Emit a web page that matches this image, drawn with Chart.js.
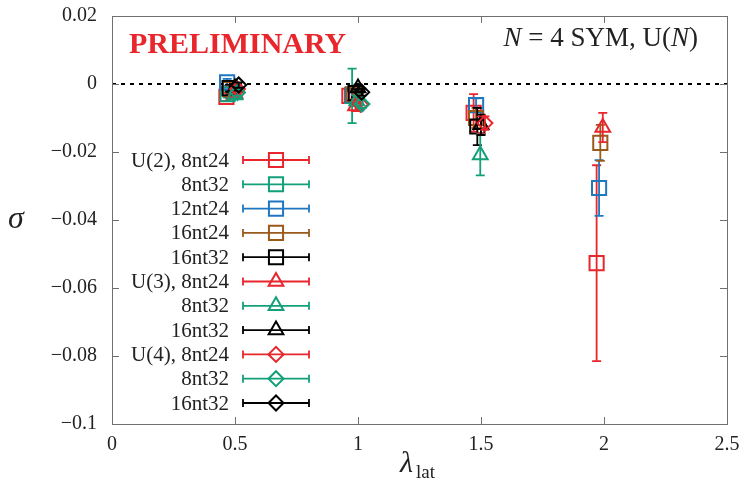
<!DOCTYPE html>
<html>
<head>
<meta charset="utf-8">
<script src="https://cdn.jsdelivr.net/npm/chart.js@4"></script>
<style>
  html, body { margin: 0; padding: 0; background: #fff; }
  #wrap { width: 742px; height: 483px; }
</style>
</head>
<body>
<div id="wrap"><canvas id="sigmaChart" width="742" height="483"></canvas></div>
<script>
// ===== DATA =====
const seriesLabels = [
    "U(2), 8nt24", "8nt32", "12nt24", "16nt24", "16nt32",
    "U(3), 8nt24", "8nt32", "16nt32",
    "U(4), 8nt24", "8nt32", "16nt32"
];
const seriesColors = [
    "#e8262c", "#12a07a", "#1f77c2", "#9a5a1c", "#000000",
    "#e8262c", "#12a07a", "#000000",
    "#e8262c", "#12a07a", "#000000"
];
const seriesStyles = [
    "rect", "rect", "rect", "rect", "rect",
    "triangle", "triangle", "triangle",
    "rectRot", "rectRot", "rectRot"
];
// lambda_lat of each point, per series
const seriesLambda = [
    [0.465, 0.965, 1.47, 1.97],
    [0.47, 0.976],
    [0.468, 0.976, 1.48, 1.98],
    [0.48, 0.98, 1.48, 1.985],
    [0.478, 0.99, 1.485],
    [0.5, 0.99, 1.5, 1.995],
    [0.5, 0.995, 1.497],
    [0.5, 1.0, 1.5],
    [0.51, 1.01, 1.516],
    [0.51, 1.016],
    [0.515, 1.015]
];
// sigma of each point, per series
const seriesSigma = [
    [-0.0038, -0.0035, -0.0085, -0.0527],
    [-0.0030, -0.0035],
    [0.0005, -0.0032, -0.0062, -0.0306],
    [-0.0015, -0.0030, -0.0100, -0.0173],
    [-0.0012, -0.0027, -0.0125],
    [-0.0028, -0.0065, -0.0120, -0.0128],
    [-0.0032, -0.0050, -0.0209],
    [-0.0012, -0.0012, -0.0120],
    [-0.0015, -0.0060, -0.0115],
    [-0.0025, -0.0059],
    [-0.0003, -0.0024]
];
// symmetric error on sigma, per series
const seriesError = [
    [0.0012, 0.0015, 0.0055, 0.0288],
    [0.0010, 0.0080],
    [0.0010, 0.0015, 0.0020, 0.0082],
    [0.0010, 0.0015, 0.0030, 0.0053],
    [0.0010, 0.0012, 0.0055],
    [0.0010, 0.0015, 0.0025, 0.0043],
    [0.0010, 0.0015, 0.0060],
    [0.0010, 0.0010, 0.0030],
    [0.0010, 0.0012, 0.0020],
    [0.0010, 0.0012],
    [0.0008, 0.0010]
];
const xTicks = [0, 0.5, 1, 1.5, 2, 2.5];
const yTicks = [0.02, 0, -0.02, -0.04, -0.06, -0.08, -0.1];

const SERIF = "'Liberation Serif', 'DejaVu Serif', serif";
const MARK_RADIUS = { rect: 10, triangle: 8.5, rectRot: 7.5 };

function fmtNum(v, digits) {
    if (Math.abs(v) < 1e-9) return "0";
    const s = String(Math.abs(+v.toFixed(digits)));
    return (v < 0 ? "\u2212" : "") + s;
}

// no extra room for overhanging tick labels; the layout padding handles it
function noLabelPadding(scale) {
    scale.paddingTop = 0;
    scale.paddingBottom = 0;
    scale.paddingLeft = 0;
    scale.paddingRight = 0;
}

// ===== PLUGINS =====
const frameAndTicks = {
    id: "frameAndTicks",
    beforeDatasetsDraw(chart) {
        const { ctx, chartArea: a, scales } = chart;
        ctx.save();
        // zero line
        ctx.strokeStyle = "#000";
        ctx.lineWidth = 2;
        ctx.setLineDash([4, 5]);
        const y0 = scales.y.getPixelForValue(0);
        ctx.beginPath();
        ctx.moveTo(a.left, y0);
        ctx.lineTo(a.right, y0);
        ctx.stroke();
        ctx.setLineDash([]);
        // frame
        ctx.strokeStyle = "#6f6f6f";
        ctx.lineWidth = 1;
        ctx.strokeRect(a.left + 0.5, a.top + 0.5, a.right - a.left, a.bottom - a.top);
        // inward ticks on all sides
        ctx.beginPath();
        xTicks.forEach(v => {
            const x = Math.round(scales.x.getPixelForValue(v)) + 0.5;
            ctx.moveTo(x, a.bottom); ctx.lineTo(x, a.bottom - 7);
            ctx.moveTo(x, a.top); ctx.lineTo(x, a.top + 7);
        });
        yTicks.forEach(v => {
            const y = Math.round(scales.y.getPixelForValue(v)) + 0.5;
            ctx.moveTo(a.left, y); ctx.lineTo(a.left + 7, y);
            ctx.moveTo(a.right, y); ctx.lineTo(a.right - 7, y);
        });
        ctx.stroke();
        ctx.restore();
    }
};

const errorBars = {
    id: "errorBars",
    beforeDatasetDraw(chart, args) {
        const i = args.index;
        const meta = args.meta;
        const { ctx, scales } = chart;
        ctx.save();
        ctx.strokeStyle = seriesColors[i];
        ctx.lineWidth = 1.8;
        meta.data.forEach((pt, j) => {
            const s = seriesSigma[i][j], e = seriesError[i][j];
            const yTop = scales.y.getPixelForValue(s + e);
            const yBot = scales.y.getPixelForValue(s - e);
            ctx.beginPath();
            ctx.moveTo(pt.x, yTop); ctx.lineTo(pt.x, yBot);
            ctx.moveTo(pt.x - 4.5, yTop); ctx.lineTo(pt.x + 4.5, yTop);
            ctx.moveTo(pt.x - 4.5, yBot); ctx.lineTo(pt.x + 4.5, yBot);
            ctx.stroke();
        });
        ctx.restore();
    }
};

const annotations = {
    id: "annotations",
    afterDraw(chart) {
        const { ctx } = chart;
        ctx.save();
        ctx.textBaseline = "middle";

        // key, drawn inside the plot
        seriesLabels.forEach((label, i) => {
            const y = 160 + i * 24.3;
            ctx.fillStyle = "#222";
            ctx.font = "21px " + SERIF;
            ctx.textAlign = "right";
            ctx.fillText(label, 229, y + 1);
            ctx.strokeStyle = seriesColors[i];
            ctx.lineWidth = 1.8;
            ctx.beginPath();
            ctx.moveTo(243, y); ctx.lineTo(309, y);
            ctx.moveTo(243, y - 4); ctx.lineTo(243, y + 4);
            ctx.moveTo(309, y - 4); ctx.lineTo(309, y + 4);
            ctx.stroke();
            ctx.fillStyle = "rgba(0,0,0,0)";
            ctx.lineWidth = 2;
            Chart.helpers.drawPoint(ctx, {
                pointStyle: seriesStyles[i],
                radius: MARK_RADIUS[seriesStyles[i]],
                rotation: 0,
                borderWidth: 2
            }, 276, y);
        });

        // headline texts
        ctx.textAlign = "left";
        ctx.textBaseline = "alphabetic";
        ctx.fillStyle = "#e8262c";
        ctx.font = "bold 30px " + SERIF;
        ctx.fillText("PRELIMINARY", 129, 53);

        const parts = [
            ["italic 27px " + SERIF, "N"],
            ["27px " + SERIF, " = 4 SYM, U("],
            ["italic 27px " + SERIF, "N"],
            ["27px " + SERIF, ")"]
        ];
        let total = 0;
        parts.forEach(p => { ctx.font = p[0]; total += ctx.measureText(p[1]).width; });
        let x = 698 - total;
        ctx.fillStyle = "#222";
        parts.forEach(p => {
            ctx.font = p[0];
            ctx.fillText(p[1], x, 46);
            x += ctx.measureText(p[1]).width;
        });

        // axis titles
        ctx.font = "italic 32px " + SERIF;
        ctx.fillText("\u03c3", 8, 228);
        ctx.font = "italic 30px " + SERIF;
        ctx.fillText("\u03bb", 400, 472);
        ctx.font = "19px " + SERIF;
        ctx.fillText("lat", 416, 478);
        ctx.restore();
    }
};

// ===== CHART =====
const datasets = seriesLabels.map((label, i) => ({
    label: label,
    data: seriesLambda[i].map((lam, j) => ({ x: lam, y: seriesSigma[i][j] })),
    pointStyle: seriesStyles[i],
    pointRadius: MARK_RADIUS[seriesStyles[i]],
    pointHoverRadius: MARK_RADIUS[seriesStyles[i]],
    borderColor: seriesColors[i],
    backgroundColor: "rgba(0,0,0,0)",
    pointBorderWidth: 2,
    showLine: false,
    order: seriesLabels.length - i
}));

new Chart(document.getElementById("sigmaChart").getContext("2d"), {
    type: "scatter",
    data: { datasets: datasets },
    options: {
        responsive: false,
        animation: false,
        events: [],
        layout: { padding: { top: 16, right: 15, left: 0, bottom: 0 } },
        plugins: { legend: { display: false }, tooltip: { enabled: false } },
        scales: {
            x: {
                type: "linear",
                min: 0, max: 2.5,
                afterFit(scale) { scale.height = 59; noLabelPadding(scale); },
                afterBuildTicks(scale) { scale.ticks = xTicks.map(v => ({ value: v })); },
                grid: { display: false, drawTicks: false },
                border: { display: false },
                ticks: {
                    padding: 9,
                    color: "#222",
                    font: { family: SERIF, size: 20 },
                    callback: v => fmtNum(v, 1)
                }
            },
            y: {
                type: "linear",
                min: -0.1, max: 0.02,
                afterFit(scale) { scale.width = 112; noLabelPadding(scale); },
                afterBuildTicks(scale) { scale.ticks = yTicks.map(v => ({ value: v })); },
                grid: { display: false, drawTicks: false },
                border: { display: false },
                ticks: {
                    padding: 15,
                    color: "#222",
                    font: { family: SERIF, size: 20 },
                    callback: v => fmtNum(v, 2)
                }
            }
        }
    },
    plugins: [frameAndTicks, errorBars, annotations]
});
</script>
</body>
</html>
